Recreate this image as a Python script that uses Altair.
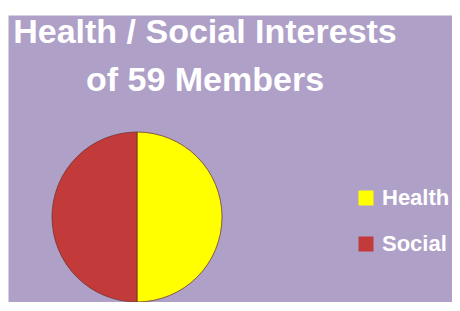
import altair as alt
import pandas as pd

# ---- data ----
categories = ["Health", "Social"]
shares = [50, 50]
slice_order = [0, 1]
colors = ["#FFFF00", "#C23B3A"]
title_lines = ["Health / Social Interests", "of 59 Members"]
title_rows = [0, 1]

FONT = "Liberation Sans, Arial, sans-serif"
BG = "#AFA0C8"

pie_df = pd.DataFrame({"interest": categories, "share": shares, "order": slice_order})
title_df = pd.DataFrame({"line": title_lines, "row": title_rows})

pie = alt.Chart(pie_df).mark_arc(
    radius=85, stroke="#6b2a1c", strokeWidth=1, strokeOpacity=0.7
).encode(
    theta=alt.Theta("share:Q", stack=True),
    order=alt.Order("order:Q"),
    color=alt.Color(
        "interest:N",
        scale=alt.Scale(domain=categories, range=colors),
        legend=alt.Legend(
            title=None, orient="none", legendX=347, legendY=172,
            symbolType="square", symbolSize=225, symbolStrokeWidth=0,
            labelFont=FONT, labelFontSize=22, labelFontWeight="bold",
            labelColor="white", labelOffset=5, rowPadding=24, labelLimit=300,
            padding=0,
        ),
    ),
    x=alt.value(129),
    y=alt.value(202),
)

title = alt.Chart(title_df).mark_text(
    font=FONT, fontSize=34, fontWeight="bold", color="white",
    align="center", baseline="alphabetic",
).encode(
    text="line:N",
    x=alt.value(197),
    y=alt.Y("row:Q", scale=alt.Scale(domain=[0, 1], range=[28, 76]), axis=None),
)

chart = alt.layer(pie, title).properties(
    width=444,
    height=287,
    autosize=alt.AutoSizeParams(type="none"),
    padding={"left": 0, "top": 7, "right": 0, "bottom": 0},
    background="white",
).configure_view(fill=BG, strokeOpacity=0)

chart.save("out.html", embed_options={"renderer": "svg", "actions": False})
